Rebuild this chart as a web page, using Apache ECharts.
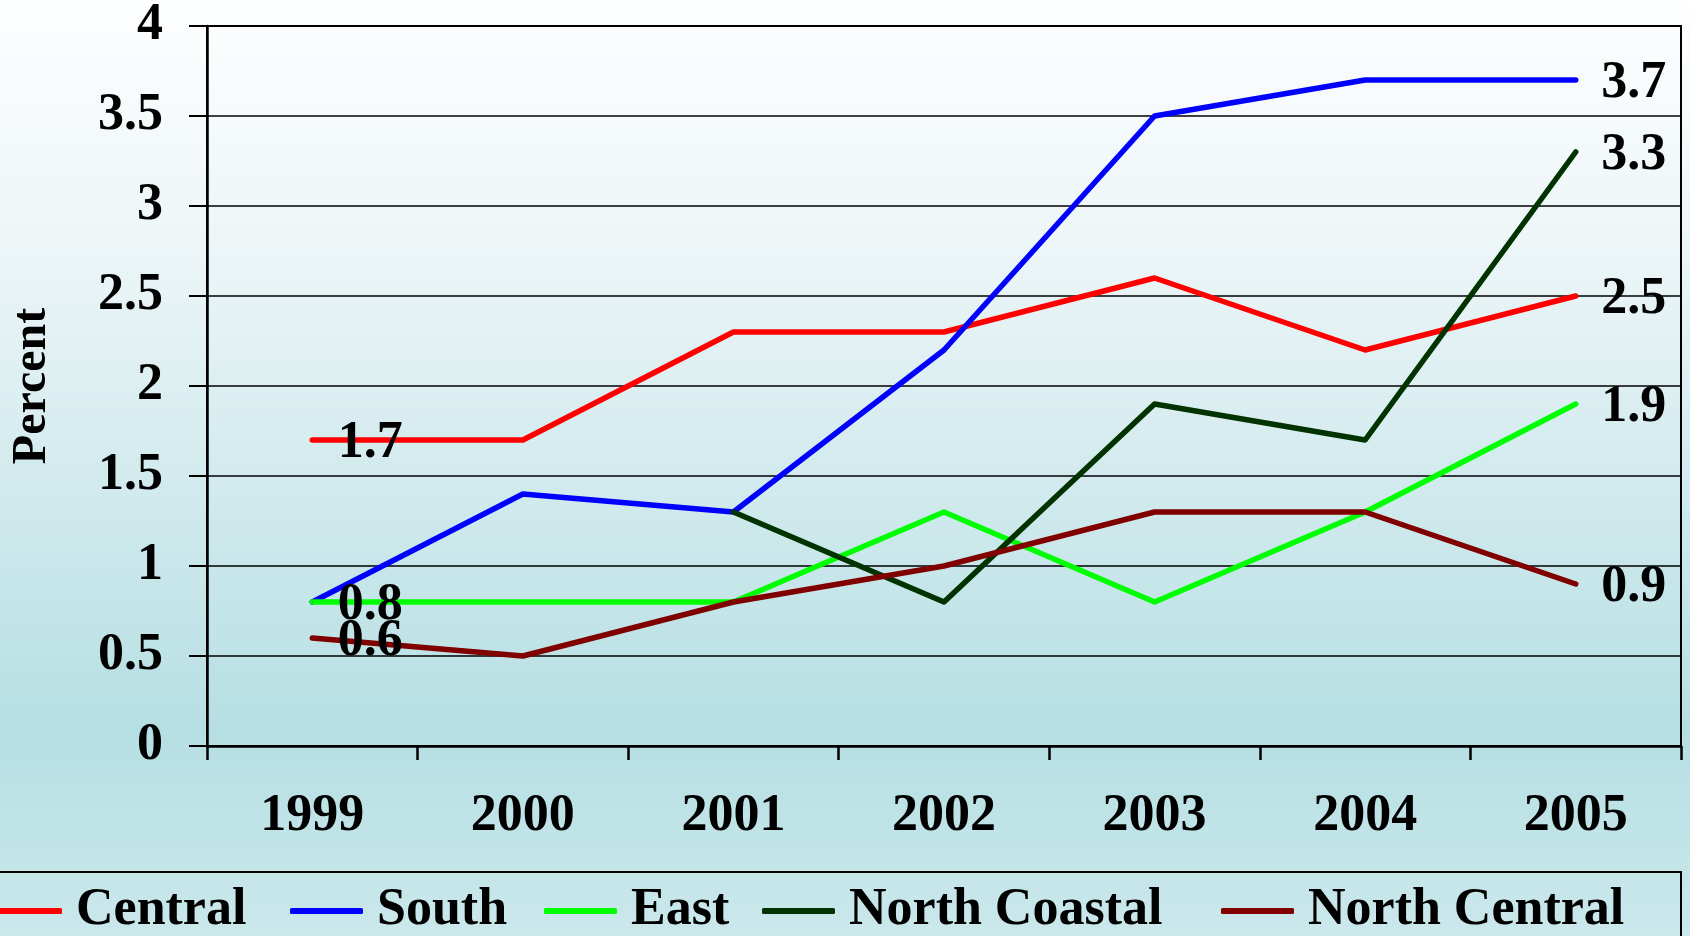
<!DOCTYPE html>
<html>
<head>
<meta charset="utf-8">
<script src="https://cdn.jsdelivr.net/npm/echarts@6/dist/echarts.min.js"></script>
<style>
  html, body { margin: 0; padding: 0; background: #fff; }
  #chart { width: 1690px; height: 936px; }
</style>
</head>
<body>
<div id="chart"></div>
<script>
// ---- data ----
const years = ['1999', '2000', '2001', '2002', '2003', '2004', '2005'];
const seriesNames = ['Central', 'South', 'East', 'North Coastal', 'North Central'];
const central = [1.7, 1.7, 2.3, 2.3, 2.6, 2.2, 2.5];
const south = [0.8, 1.4, 1.3, 2.2, 3.5, 3.7, 3.7];
const east = [0.8, 0.8, 0.8, 1.3, 0.8, 1.3, 1.9];
const northCoastal = [null, null, 1.3, 0.8, 1.9, 1.7, 3.3];
const northCentral = [0.6, 0.5, 0.8, 1.0, 1.3, 1.3, 0.9];
const yTicks = [0, 0.5, 1, 1.5, 2, 2.5, 3, 3.5, 4];
// indices of points that carry a value label
const labelledIdx = {
  'Central': [0, 6],
  'South': [6],
  'East': [0, 6],
  'North Coastal': [6],
  'North Central': [0, 6]
};

// ---- styling / layout ----
const FONT = '"Liberation Serif", "Times New Roman", serif';
const FS = 52;
const colors = {
  'Central': '#ff0000',
  'South': '#0000ff',
  'East': '#00ff00',
  'North Coastal': '#003300',
  'North Central': '#800000'
};
const legendLeft = [-11, 290, 544, 762, 1221];
const values = {
  'Central': central, 'South': south, 'East': east,
  'North Coastal': northCoastal, 'North Central': northCentral
};

const labelStyle = {
  show: true,
  position: 'right',
  distance: 25,
  offset: [0, 4],
  color: '#000',
  fontFamily: FONT,
  fontWeight: 'bold',
  fontSize: FS,
  formatter: p => String(p.value)
};

const series = seriesNames.map(name => ({
  name,
  type: 'line',
  data: values[name].map((v, i) => {
    const item = { value: v === null ? '-' : v };
    if (labelledIdx[name].indexOf(i) >= 0) item.label = labelStyle;
    return item;
  }),
  symbol: 'circle',
  symbolSize: 1,
  showSymbol: true,
  connectNulls: false,
  animation: false,
  lineStyle: { color: colors[name], width: 5.5, cap: 'round', join: 'round' },
  itemStyle: { color: colors[name] },
  label: { show: false },
  emphasis: { disabled: true }
}));

const legends = seriesNames.map((n, i) => ({
  left: legendLeft[i],
  top: 885,
  padding: 0,
  itemWidth: 73,
  itemHeight: 6,
  selectedMode: false,
  textStyle: {
    color: '#000', fontFamily: FONT, fontWeight: 'bold', fontSize: FS,
    padding: [0, 0, 0, 9]
  },
  data: [{ name: n, icon: 'roundRect', itemStyle: { color: colors[n] } }]
}));

const chart = echarts.init(document.getElementById('chart'), null, { renderer: 'canvas' });
chart.setOption({
  animation: false,
  backgroundColor: {
    type: 'linear', x: 0, y: 0, x2: 0, y2: 1,
    colorStops: [
      { offset: 0, color: '#fdfeff' },
      { offset: 0.25, color: '#eef6f8' },
      { offset: 0.78, color: '#b6dfe3' },
      { offset: 1, color: '#cbe8eb' }
    ]
  },
  textStyle: { fontFamily: FONT },
  grid: {
    left: 207, right: 9, top: 26, bottom: 190,
    containLabel: false,
    outerBoundsMode: 'none',
    show: true, borderColor: '#000', borderWidth: 2, backgroundColor: 'transparent'
  },
  legend: legends,
  graphic: [{
    type: 'rect',
    silent: true,
    shape: { x: -20, y: 872, width: 1701, height: 120 },
    style: { fill: null, stroke: '#000', lineWidth: 2 }
  }],
  xAxis: {
    type: 'category',
    data: years,
    boundaryGap: true,
    axisLine: { show: true, lineStyle: { color: '#000', width: 2.5 } },
    axisTick: { show: true, inside: false, length: 14, alignWithLabel: false, lineStyle: { color: '#000', width: 2.5 } },
    axisLabel: { color: '#000', fontFamily: FONT, fontWeight: 'bold', fontSize: FS, margin: 45 },
    splitLine: { show: false }
  },
  yAxis: {
    type: 'value',
    min: yTicks[0],
    max: yTicks[yTicks.length - 1],
    interval: yTicks[1] - yTicks[0],
    name: 'Percent',
    nameLocation: 'middle',
    nameRotate: 90,
    nameGap: 150,
    nameTextStyle: { color: '#000', fontFamily: FONT, fontWeight: 'bold', fontSize: 48 },
    axisLine: { show: true, lineStyle: { color: '#000', width: 2.5 } },
    axisTick: { show: true, inside: false, length: 18, lineStyle: { color: '#000', width: 2 } },
    axisLabel: { color: '#000', fontFamily: FONT, fontWeight: 'bold', fontSize: FS, margin: 44 },
    splitLine: { show: true, lineStyle: { color: '#000', width: 1.5 } }
  },
  series
});
</script>
</body>
</html>
